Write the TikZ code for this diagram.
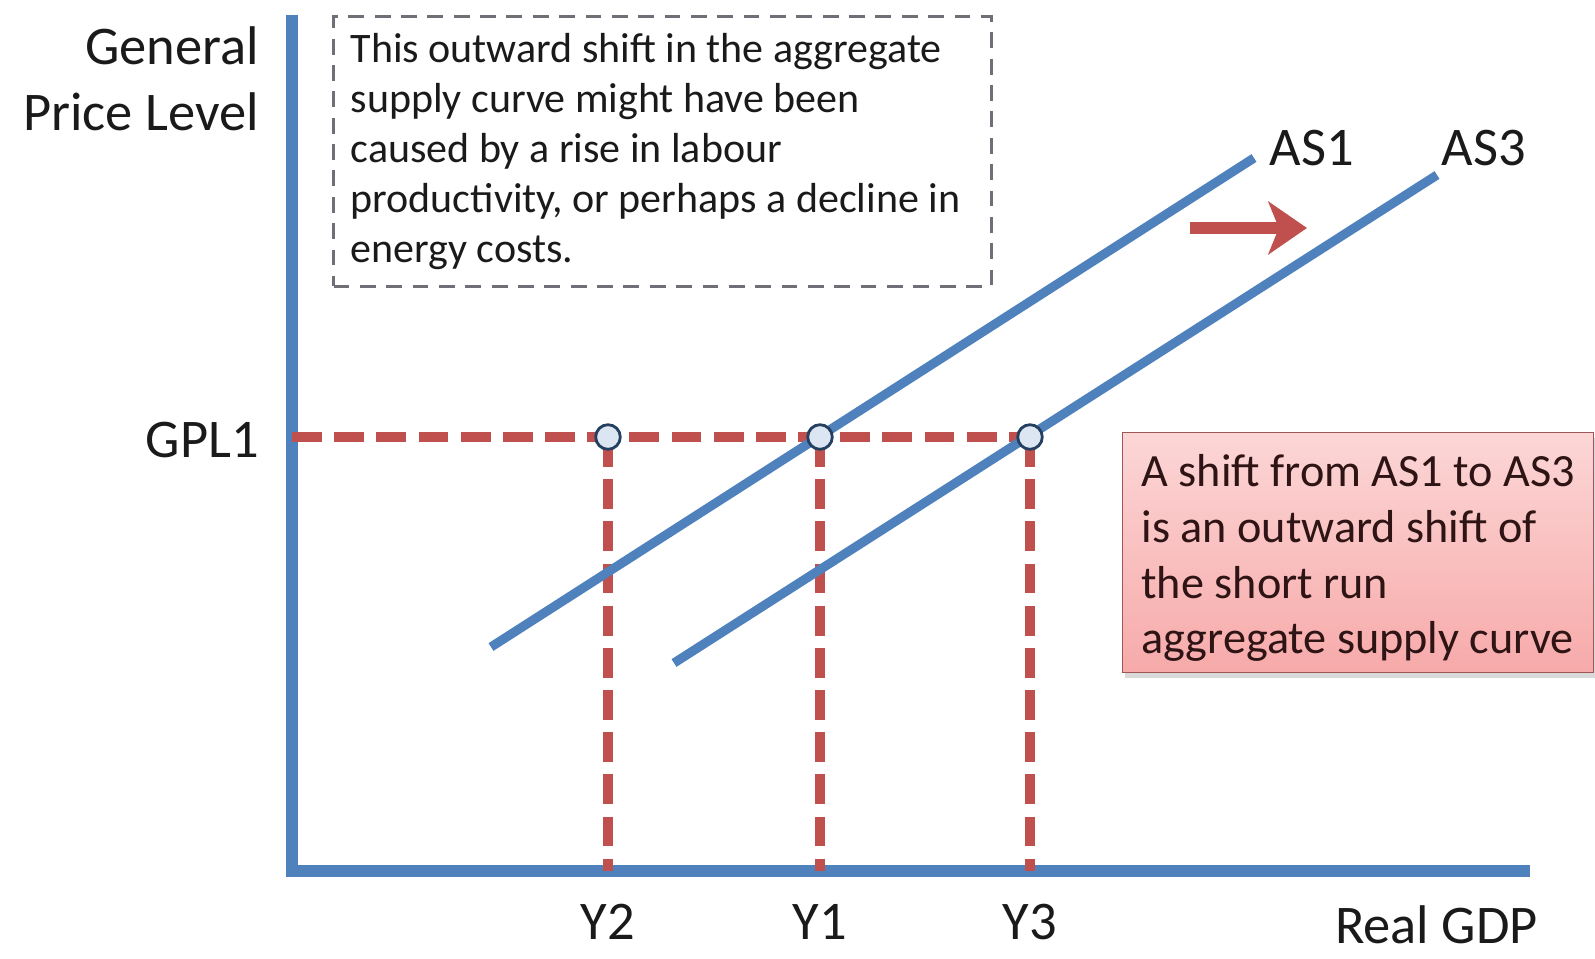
\documentclass[tikz,border=0pt]{standalone}
\usepackage{fontspec}
\setmainfont{Carlito}
\usetikzlibrary{positioning,arrows.meta,shadows}

\definecolor{axisblue}{HTML}{4F81BD}
\definecolor{guidered}{HTML}{C0504D}
\definecolor{ptfill}{HTML}{DCE6F2}
\definecolor{ptborder}{HTML}{243F60}
\definecolor{labeltext}{HTML}{1A1A1A}
\definecolor{notegray}{HTML}{6F6F78}
\definecolor{boxtop}{HTML}{FCD6D6}
\definecolor{boxbot}{HTML}{F7AAAA}
\definecolor{boxline}{HTML}{9E5656}
\definecolor{boxtext}{HTML}{2E1414}

\begin{document}
\begin{tikzpicture}
[x=0.02cm, y=-0.02cm,
 axis/.style={draw=axisblue, line width=6.6pt},
 ascurve/.style={draw=axisblue, line width=5.2pt},
 guide/.style={draw=guidered, line width=5.4pt, dash pattern=on 17pt off 7pt},
 eqpt/.style={circle, draw=ptborder, fill=ptfill, line width=1.6pt, minimum size=14pt, inner sep=0pt},
 lbl/.style={text=labeltext, font=\fontsize{31}{37.5}\selectfont, inner sep=0pt},
 notebox/.style={draw=notegray, line width=1.8pt, dash pattern=on 9pt off 6pt,
   text=labeltext, font=\fontsize{23.9}{28.5}\selectfont, align=flush left,
   text width=355pt, inner xsep=9.7pt, inner ysep=0pt, minimum height=153.6pt},
 shiftbox/.style={draw=boxline, line width=0.8pt, top color=boxtop, bottom color=boxbot,
   drop shadow={shadow xshift=1.5pt, shadow yshift=-3pt, opacity=0.3},
   text=boxtext, font=\fontsize{26.3}{31.8}\selectfont, align=left,
   inner xsep=9.7pt, inner ysep=0pt, minimum width=268pt, minimum height=136.5pt}]

\useasboundingbox (0,0) rectangle (1595,959);

% axes
\coordinate (ytop) at (292,15);
\coordinate (O) at (292,871);
\coordinate (xend) at (1530,871);
\draw[axis] (ytop) -- (O) -- (xend);

% equilibrium points at GPL1
\coordinate (e2) at (608,437);
\coordinate (e1) at (820,437);
\coordinate (e3) at (1030,437);

% dashed guides
\draw[guide] (O |- e1) -- (e3);
\foreach \p in {e2,e1,e3}
  \draw[guide] (\p) -- (\p |- O);

% supply curves
\coordinate (as1a) at (491,647);
\coordinate (as1b) at (1254,158);
\coordinate (as3a) at (674,663);
\coordinate (as3b) at (1437,175);
\draw[ascurve] (as1a) -- (as1b);
\draw[ascurve] (as3a) -- (as3b);

\node[eqpt] (p2) at (e2) {};
\node[eqpt] (p1) at (e1) {};
\node[eqpt] (p3) at (e3) {};

% shift arrow
\coordinate (sh1) at (1190,228);
\coordinate (sh2) at (1307,228);
\draw[guidered, line width=6.6pt, -{Stealth[length=22pt, width=30pt, inset=6pt]}] (sh1) -- (sh2);

% labels
\node[lbl, align=right, anchor=east] (gpl) at (259,79) {General\\Price Level};
\node[lbl, anchor=east] (gpl1) at (259,440) {GPL1};
\node[lbl] (las1) at (1312,148) {AS1};
\node[lbl] (las3) at (1484,148) {AS3};
\node[lbl] (y2) at (608,922) {Y2};
\node[lbl] (y1) at (820,922) {Y1};
\node[lbl] (y3) at (1030,922) {Y3};
\node[lbl, anchor=east] (gdp) at (1538,925) {Real GDP};

% text boxes
\node[notebox, anchor=north west] (note) at (332,15)
  {This outward shift in the aggregate\\
   supply curve might have been\\
   caused by a rise in labour\\
   productivity, or perhaps a decline in\\
   energy costs.};

\node[shiftbox, anchor=north west] (shift) at (1122,432)
  {\rule{0pt}{24.5pt}A shift from AS1 to AS3\\
   is an outward shift of\\
   the short run\\
   aggregate supply curve};

\end{tikzpicture}
\end{document}
